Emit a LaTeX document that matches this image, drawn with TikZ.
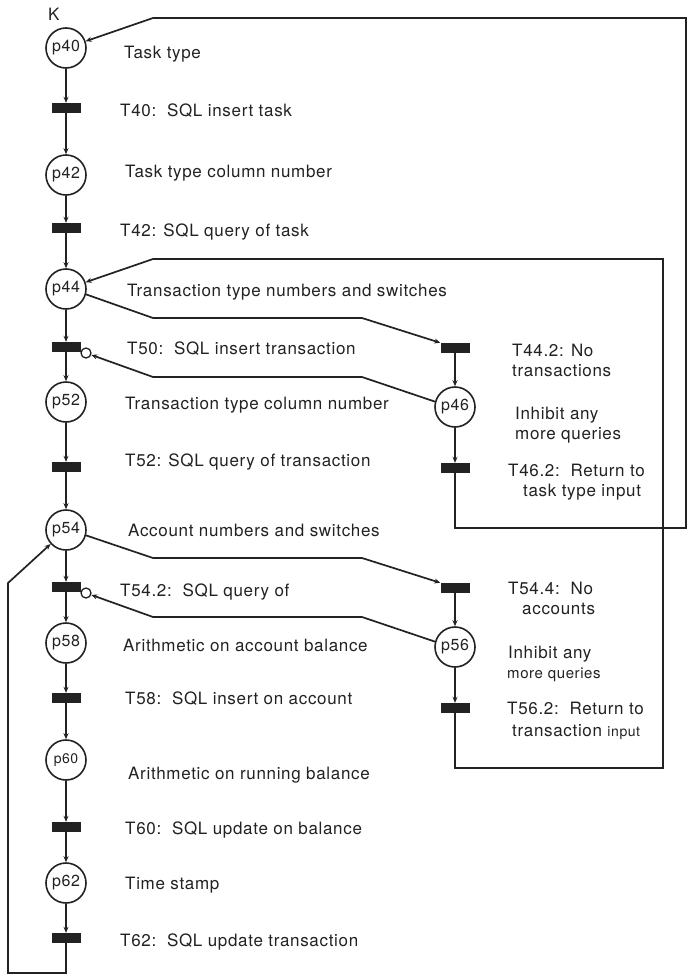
\documentclass[tikz,border=0pt]{standalone}
\usepackage{fontspec}
\setmainfont{TeX Gyre Heros}[LetterSpace=4]
\usetikzlibrary{arrows.meta}
\definecolor{ink}{HTML}{222222}
\begin{document}
\begin{tikzpicture}[x=1pt,y=-1pt,
  place/.style={circle,draw=ink,line width=1.6pt,minimum size=40pt,inner sep=0pt,
    font=\fontsize{16}{18}\selectfont,text=ink},
  trans/.style={rectangle,fill=ink,minimum width=29pt,minimum height=10pt,inner sep=0pt},
  inhib/.style={circle,draw=ink,line width=1.3pt,fill=white,minimum size=10pt,inner sep=0pt},
  lbl/.style={anchor=west,inner sep=0pt,text height=12pt,text depth=0pt,
    font=\fontsize{17}{20}\selectfont,text=ink},
  arc/.style={draw=ink,line width=1.7pt,-{Stealth[length=6pt,width=5pt]}},
  wire/.style={draw=ink,line width=1.7pt}
]
\fill[white] (0,0) rectangle (690,977);
\useasboundingbox (0,0) rectangle (690,977);

% main column: places and transitions
\node[lbl] (K) at (48,14) {K};
\node[place] (p40) at (66,48) {p40};
\node[trans] (T40) at (66,108) {};
\node[place] (p42) at (66,175) {p42};
\node[trans] (T42) at (66,228) {};
\node[place] (p44) at (66,289) {p44};
\node[trans] (T50) at (66,347) {};
\node[place] (p52) at (66,402) {p52};
\node[trans] (T52) at (66,467) {};
\node[place] (p54) at (66,530) {p54};
\node[trans] (T542) at (66,587) {};
\node[place] (p58) at (66,643) {p58};
\node[trans] (T58) at (66,698) {};
\node[place,font=\fontsize{14}{16}\selectfont] (p60) at (66,760) {p60};
\node[trans] (T60) at (66,827) {};
\node[place] (p62) at (66,883) {p62};
\node[trans] (T62) at (66,938) {};

% side branches
\node[trans] (T442) at (455,348) {};
\node[place] (p46) at (455,407) {p46};
\node[trans] (T462) at (455,468) {};
\node[trans] (T544) at (455,588) {};
\node[place] (p56) at (455,647) {p56};
\node[trans] (T562) at (455,708) {};

% inhibitor ends
\node[inhib] (i50) at (86,353) {};
\node[inhib] (i542) at (86,593) {};

% labels of the main column
\node[lbl] (l40) at (124,52) {Task type};
\node[lbl] (lT40) at (120,110) {T40:\ \ SQL insert task};
\node[lbl] (l42) at (125,171) {Task type column number};
\node[lbl] (lT42) at (120,230) {T42: SQL query of task};
\node[lbl] (l44) at (127,290) {Transaction type numbers and switches};
\node[lbl] (lT50) at (127,348) {T50:\ \ SQL insert transaction};
\node[lbl] (l52) at (125,403) {Transaction type column number};
\node[lbl] (lT52) at (125,460) {T52: SQL query of transaction};
\node[lbl] (l54) at (128,530) {Account numbers and switches};
\node[lbl] (lT542) at (120,590) {T54.2:\ \ SQL query of};
\node[lbl] (l58) at (123,645) {Arithmetic on account balance};
\node[lbl] (lT58) at (125,698) {T58:\ \ SQL insert on account};
\node[lbl] (l60) at (128,773) {Arithmetic on running balance};
\node[lbl] (lT60) at (125,828) {T60:\ \ SQL update on balance};
\node[lbl] (l62) at (125,883) {Time stamp};
\node[lbl] (lT62) at (120,940) {T62:\ \ SQL update transaction};

% labels of the side branches
\node[lbl] (lT442a) at (512,350) {T44.2: No};
\node[lbl] (lT442b) at (512,370) {transactions};
\node[lbl] (l46a) at (515,413) {Inhibit any};
\node[lbl] (l46b) at (515,433) {more queries};
\node[lbl] (lT462a) at (508,470) {T46.2:\ \ Return to};
\node[lbl] (lT462b) at (523,490) {task type input};
\node[lbl] (lT544a) at (508,588) {T54.4:\ \ No};
\node[lbl] (lT544b) at (522,608) {accounts};
\node[lbl] (l56a) at (508,652) {Inhibit any};
\node[lbl,font=\fontsize{15}{18}\selectfont] (l56b) at (507,672) {more queries};
\node[lbl] (lT562a) at (507,708) {T56.2:\ \ Return to};
\node[lbl] (lT562b) at (512,730) {transaction {\fontsize{14}{16}\selectfont input}};

% main column arcs
\draw[arc] (p40) -- (T40);
\draw[arc] (T40) -- (p42);
\draw[arc] (p42) -- (T42);
\draw[arc] (T42) -- (p44);
\draw[arc] (p44) -- (T50);
\draw[arc] (T50) -- (p52);
\draw[arc] (p52) -- (T52);
\draw[arc] (T52) -- (p54);
\draw[arc] (p54) -- (T542);
\draw[arc] (T542) -- (p58);
\draw[arc] (p58) -- (T58);
\draw[arc] (T58) -- (p60);
\draw[arc] (p60) -- (T60);
\draw[arc] (T60) -- (p62);
\draw[arc] (p62) -- (T62);

% side branch arcs
\draw[arc] (p44.-15) -- (153,318) -- (362,318) -- (T442.north west);
\draw[arc] (T442) -- (p46);
\draw[arc] (p46) -- (T462);
\draw[arc] (p54.-15) -- (153,558) -- (362,558) -- (T544.north west);
\draw[arc] (T544) -- (p56);
\draw[arc] (p56) -- (T562);

% inhibitor arcs
\draw[arc] (p46.165) -- (362,377) -- (153,377) -- (i50);
\draw[arc] (p56.165) -- (362,617) -- (153,617) -- (i542);

% return arcs
\draw[arc] (T462) -- (455,528) -- (686,528) -- (686,18) -- (153,18) -- (p40);
\draw[arc] (T562) -- (455,768) -- (663,768) -- (663,259) -- (153,259) -- (p44);
\draw[arc] (T62) -- (66,973) -- (8,973) -- (8,583) -- (p54);
\end{tikzpicture}
\end{document}
